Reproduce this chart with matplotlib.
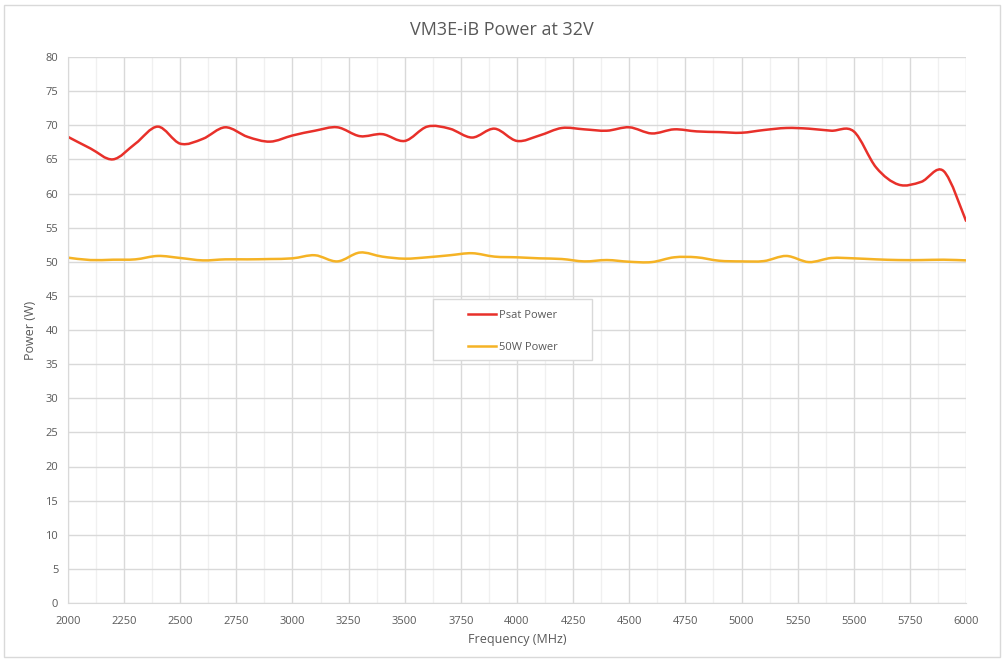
import numpy as np
import matplotlib
matplotlib.use('Agg')
import matplotlib.pyplot as plt
from matplotlib.path import Path
from matplotlib.patches import PathPatch, Rectangle
from matplotlib.lines import Line2D

plt.rcParams['font.family'] = ['Open Sans', 'DejaVu Sans']

freq = np.arange(2000, 6001, 100)

psat_power = [68.3, 66.6, 65.0, 67.3, 69.8, 67.3, 68.0, 69.7, 68.3, 67.6,
              68.5, 69.2, 69.7, 68.4, 68.7, 67.7, 69.8, 69.5, 68.2, 69.5,
              67.7, 68.5, 69.6, 69.4, 69.2, 69.7, 68.8, 69.4, 69.1, 69.0,
              68.9, 69.3, 69.6, 69.5, 69.2, 69.1, 63.8, 61.3, 61.7, 63.3,
              56.0]

w50_power = [50.6, 50.25, 50.3, 50.35, 50.85, 50.55, 50.2, 50.35, 50.35, 50.4,
             50.5, 50.95, 50.05, 51.35, 50.75, 50.45, 50.65, 50.95, 51.25, 50.75,
             50.65, 50.5, 50.4, 50.05, 50.25, 50.0, 49.95, 50.65, 50.65, 50.15,
             50.05, 50.1, 50.85, 49.95, 50.55, 50.5, 50.35, 50.25, 50.25, 50.3,
             50.2]

series = [('Psat Power', psat_power, '#e8302a'),
          ('50W Power', w50_power, '#f5b325')]


def smooth_path(x, y):
    """Bezier path through the points, like a smoothed spreadsheet line."""
    x = np.asarray(x, float)
    y = np.asarray(y, float)
    n = len(x)
    verts = [(x[0], y[0])]
    codes = [Path.MOVETO]
    for i in range(n - 1):
        i0 = max(i - 1, 0)
        i3 = min(i + 2, n - 1)
        c1 = (x[i] + (x[i + 1] - x[i0]) / 6, y[i] + (y[i + 1] - y[i0]) / 6)
        c2 = (x[i + 1] - (x[i3] - x[i]) / 6, y[i + 1] - (y[i3] - y[i]) / 6)
        verts += [c1, c2, (x[i + 1], y[i + 1])]
        codes += [Path.CURVE4] * 3
    return Path(verts, codes)


fig = plt.figure(figsize=(10.03, 6.59), dpi=100)
ax = fig.add_axes([68 / 1003, 1 - 603 / 659, 898 / 1003, 546 / 659])

# chart border
fig.patches.append(Rectangle((4 / 1003, 2 / 659), 996 / 1003, 652 / 659,
                             transform=fig.transFigure, fill=False,
                             edgecolor='#d9d9d9', linewidth=1))

handles = []
for label, vals, color in series:
    patch = PathPatch(smooth_path(freq, vals), facecolor='none',
                      edgecolor=color, linewidth=1.8, capstyle='round')
    ax.add_patch(patch)
    handles.append(Line2D([], [], color=color, linewidth=1.8, label=label))

ax.set_xlim(2000, 6000)
ax.set_ylim(0, 80)
ax.set_xticks(np.arange(2000, 6001, 250))
ax.set_xticks(np.arange(2125, 6000, 250), minor=True)
ax.set_yticks(np.arange(0, 81, 5))
ax.grid(True, which='major', color='#d9d9d9', linewidth=1)
ax.grid(True, which='minor', axis='x', color='#f0f0f0', linewidth=1)
ax.set_axisbelow(True)
ax.tick_params(which='both', length=0, labelsize=8, colors='#595959')
ax.tick_params(axis='x', pad=9)
ax.tick_params(axis='y', pad=7)
for side in ['top', 'right']:
    ax.spines[side].set_visible(False)
for side in ['left', 'bottom']:
    ax.spines[side].set_color('#d9d9d9')

ax.set_xlabel('Frequency (MHz)', fontsize=9, color='#595959', labelpad=5)
ax.set_ylabel('Power (W)', fontsize=9, color='#595959', labelpad=6)
fig.text(0.5, 1 - 30 / 659, 'VM3E-iB Power at 32V', ha='center', va='center',
         fontsize=13, color='#595959')

# legend frame drawn separately so it can be wider than its entries
ax.add_patch(Rectangle((0.4065, 0.445), 0.177, 0.112, transform=ax.transAxes,
                       facecolor='white', edgecolor='#d9d9d9', linewidth=1,
                       zorder=4))
leg = ax.legend(handles=handles, loc='upper left',
                bbox_to_anchor=(0.4454, 0.537), fontsize=8, labelspacing=1.9,
                handlelength=2.5, handletextpad=0.3, borderpad=0,
                borderaxespad=0, frameon=False)
leg.set_zorder(5)
for t in leg.get_texts():
    t.set_color('#595959')

fig.savefig('out.png', dpi=100)
